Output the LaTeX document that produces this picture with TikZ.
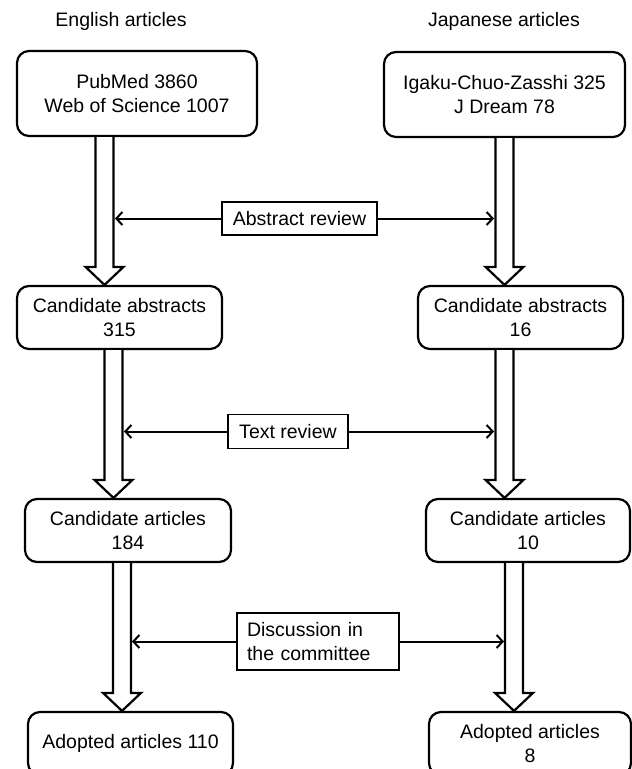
\documentclass[tikz,border=0pt]{standalone}
\usepackage{fontspec}
\setmainfont{Liberation Sans}
\usetikzlibrary{arrows.meta,calc}
\tikzset{
  flowbox/.style={draw, line width=2.2pt, rounded corners=12pt, align=center, inner sep=0pt,
    font=\fontsize{19.5}{23.5}\selectfont},
  revbox/.style={draw, line width=1.4pt, inner sep=0pt, font=\fontsize{19.5}{23.5}\selectfont},
  titletext/.style={font=\fontsize{19.5}{23.5}\selectfont, inner sep=0pt},
  hollow/.style={draw, fill=white, line width=2.2pt, line join=miter},
  conn/.style={line width=2pt, -{Straight Barb[length=6pt,width=13pt,line width=2pt]}},
}
% #1 from node, #2 to node, #3 x centre (pt)
\newcommand\hollowarr[3]{%
  \path[hollow] let \p1=(#1.south), \p2=(#2.north) in
    ({#3-9pt},\y1) -- ({#3-9pt},{\y2+18pt}) -- ({#3-19pt},{\y2+18pt}) -- (#3,\y2)
    -- ({#3+19pt},{\y2+18pt}) -- ({#3+9pt},{\y2+18pt}) -- ({#3+9pt},\y1);
}
\begin{document}
\begin{tikzpicture}[x=1pt,y=-1pt]
\useasboundingbox (0,0) rectangle (632,769);
\clip (0,0) rectangle (632,769);

\node[titletext] (tE) at (121,21) {English articles};
\node[titletext] (tJ) at (504,21) {Japanese articles};

\node[flowbox, minimum width=240pt, minimum height=85pt] (E1) at (137,93.5) {PubMed 3860\\Web of Science 1007};
\node[flowbox, minimum width=241pt, minimum height=85pt] (J1) at (504.5,94.5) {Igaku-Chuo-Zasshi 325\\J Dream 78};
\node[flowbox, minimum width=205pt, minimum height=63pt] (E2) at (119.5,317.5) {Candidate abstracts\\315};
\node[flowbox, minimum width=205pt, minimum height=63pt] (J2) at (520.5,317.5) {Candidate abstracts\\16};
\node[flowbox, minimum width=206pt, minimum height=63pt] (E3) at (128,530.5) {Candidate articles\\184};
\node[flowbox, minimum width=204pt, minimum height=63pt] (J3) at (528,530.5) {Candidate articles\\10};
\node[flowbox, minimum width=205pt, minimum height=63pt] (E4) at (130.5,743.5) {Adopted articles 110};
\node[flowbox, minimum width=202pt, minimum height=63pt] (J4) at (530,743.5) {Adopted articles\\8};

\hollowarr{E1}{E2}{104.5pt}
\hollowarr{J1}{J2}{504.5pt}
\hollowarr{E2}{E3}{113.5pt}
\hollowarr{J2}{J3}{504.5pt}
\hollowarr{E3}{E4}{122pt}
\hollowarr{J3}{J4}{514pt}

\node[revbox, minimum width=155pt, minimum height=33pt] (ar) at (299.5,218.5) {Abstract review};
\node[revbox, minimum width=120pt, minimum height=34pt] (tr) at (288,431.5) {Text review};
\node[revbox, minimum width=162pt, minimum height=57pt, align=left, text width=142pt, inner xsep=10pt] (dc) at (318,641.5) {Discussion in\\the committee};

\coordinate (arL) at (115,218.5);
\coordinate (arR) at (494,218.5);
\coordinate (trL) at (124,431.5);
\coordinate (trR) at (494,431.5);
\coordinate (dcL) at (132,641.5);
\coordinate (dcR) at (504,641.5);

\draw[conn] (ar.west) -- (arL);
\draw[conn] (ar.east) -- (arR);
\draw[conn] (tr.west) -- (trL);
\draw[conn] (tr.east) -- (trR);
\draw[conn] (dc.west) -- (dcL);
\draw[conn] (dc.east) -- (dcR);
\end{tikzpicture}
\end{document}
